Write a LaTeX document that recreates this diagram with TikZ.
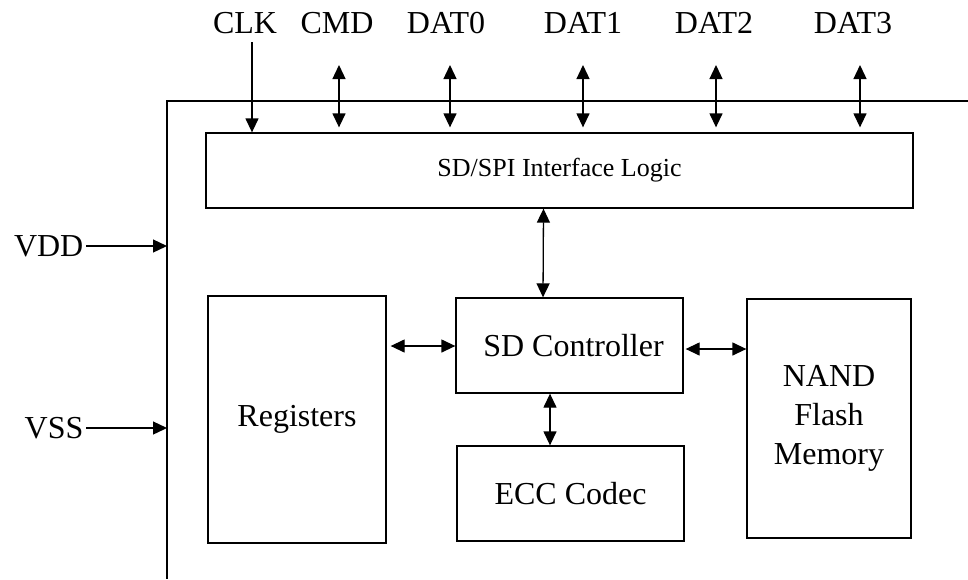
\documentclass[tikz,border=0pt]{standalone}
\usepackage{fontspec}
\setmainfont{Liberation Serif}
\usetikzlibrary{arrows.meta,positioning,calc}

\begin{document}
\begin{tikzpicture}[x=1pt, y=-1pt, line width=1.3pt,
    font=\fontsize{32}{39}\selectfont,
    blk/.style={draw, rectangle, inner sep=0pt, align=center},
    pin/.style={anchor=base, inner sep=0pt},
    tip/.style={-{Triangle[length=14pt,width=13pt]}},
    bitip/.style={{Triangle[length=14pt,width=13pt]}-{Triangle[length=14pt,width=13pt]}}
  ]
    \useasboundingbox (0,0) rectangle (968,579);

    % card outline
    \draw (968,101) -- (167,101) -- (167,579);
    \coordinate (edge) at (167,101);

    % blocks
    \node [blk, minimum width=707pt, minimum height=75pt,
      font=\fontsize{26}{30}\selectfont] (iface) at (559.5,170.5)
      {SD/SPI Interface Logic};
    \node [blk, minimum width=178pt, minimum height=247pt] (regs) at (297,419.5)
      {Registers};
    \node [blk, minimum width=227pt, minimum height=95pt] (ctrl) at (569.5,345.5)
      {\hspace{8pt}SD Controller};
    \node [blk, minimum width=227pt, minimum height=95pt] (ecc) at (570.5,493.5)
      {ECC Codec};
    \node [blk, minimum width=164pt, minimum height=239pt] (nand) at (829,418.5)
      {NAND\\Flash\\Memory};

    % pins on top
    \node [pin] (clk)  at (245,33) {CLK};
    \node [pin] (cmd)  at (337,33) {CMD};
    \node [pin] (dat0) at (446,33) {DAT0};
    \node [pin] (dat1) at (583,33) {DAT1};
    \node [pin] (dat2) at (714,33) {DAT2};
    \node [pin] (dat3) at (853,33) {DAT3};

    \coordinate (clkIn) at (252,42);
    \draw [tip] (clkIn) -- (clkIn |- iface.north);
    \foreach \p/\x in {cmd/339, dat0/450, dat1/583, dat2/716, dat3/860} {
      \coordinate (\p In) at (\x,65);
      \draw [bitip] (\p In) -- ($(\p In |- iface.north)+(0,-5)$);
    }

    % supply pins
    \node [left, inner sep=2pt] (vdd) at (86,246) {VDD};
    \node [left, inner sep=2pt] (vss) at (86,428) {VSS};
    \draw [tip] (vdd.east) -- (vdd.east -| edge);
    \draw [tip] (vss.east) -- (vss.east -| edge);

    % internal buses
    \draw [bitip] ($(iface.south)+(-16,0)$) -- ($(ctrl.north)+(-26.5,0)$);
    \draw [bitip] ($(ctrl.south)+(-19.5,0)$) -- ($(ecc.north)+(-20.5,0)$);
    \draw [bitip] ($(regs.east)+(4,-73.5)$) -- ($(ctrl.west)+(0,0.5)$);
    \draw [bitip] ($(ctrl.east)+(2,3.5)$) -- ($(nand.west)+(0,-69.5)$);
\end{tikzpicture}
\end{document}
